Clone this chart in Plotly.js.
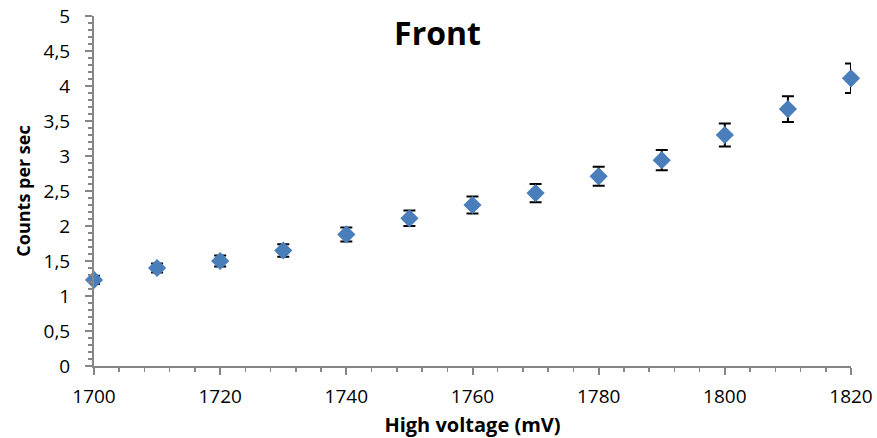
<!DOCTYPE html>
<html>
<head>
<meta charset="utf-8">
<script src="https://cdn.plot.ly/plotly-3.0.1.min.js"></script>
<style>html,body{margin:0;padding:0;background:#fff;}#chart{width:877px;height:438px;}</style>
</head>
<body>
<div id="chart"></div>
<script>
const voltage = [1700, 1710, 1720, 1730, 1740, 1750, 1760, 1770, 1780, 1790, 1800, 1810, 1820];
const counts  = [1.23, 1.40, 1.50, 1.65, 1.88, 2.11, 2.30, 2.47, 2.71, 2.94, 3.30, 3.67, 4.11];
const countsErr = [0.06, 0.065, 0.08, 0.09, 0.10, 0.11, 0.12, 0.13, 0.135, 0.145, 0.165, 0.185, 0.21];

const trace = {
  x: voltage,
  y: counts,
  type: 'scatter',
  mode: 'markers',
  cliponaxis: false,
  marker: {symbol: 'diamond', size: 14, color: '#4a7ebb', line: {width: 0}},
  error_y: {type: 'data', array: countsErr, visible: true, color: '#000000', thickness: 2, width: 6},
  hoverinfo: 'x+y'
};

const axisColor = '#868686';
const layout = {
  width: 877, height: 438,
  margin: {l: 94, r: 26, t: 16, b: 72},
  paper_bgcolor: '#ffffff', plot_bgcolor: '#ffffff',
  separators: ',.',
  showlegend: false,
  font: {family: 'Open Sans, sans-serif', color: '#000000'},
  title: {
    text: '<b>Front</b>',
    font: {family: 'Open Sans, sans-serif', size: 32, color: '#000000'},
    xref: 'container', x: 437.5/877, xanchor: 'center',
    yref: 'container', y: 1 - 34/438, yanchor: 'middle'
  },
  xaxis: {
    range: [1700, 1820], dtick: 20, tick0: 1700,
    showgrid: false, zeroline: false,
    showline: true, linecolor: axisColor, linewidth: 2,
    ticks: 'outside', ticklen: 7, tickwidth: 2, tickcolor: axisColor,
    minor: {dtick: 4, ticks: 'outside', ticklen: 4, tickwidth: 1.5, tickcolor: axisColor, showgrid: false},
    tickfont: {family: 'Open Sans, sans-serif', size: 19, color: '#000000'},
    ticklabelstandoff: 5,
    title: {text: '<b>High voltage (mV)</b>', font: {family: 'Open Sans, sans-serif', size: 20, color: '#000000'}, standoff: 10}
  },
  yaxis: {
    range: [0, 5], dtick: 0.5, tick0: 0,
    showgrid: false, zeroline: false,
    showline: true, linecolor: axisColor, linewidth: 2,
    ticks: 'outside', ticklen: 7, tickwidth: 2, tickcolor: axisColor,
    minor: {dtick: 0.1, ticks: 'outside', ticklen: 4, tickwidth: 1.5, tickcolor: axisColor, showgrid: false},
    tickfont: {family: 'Open Sans, sans-serif', size: 19, color: '#000000'},
    ticklabelstandoff: 11,
    title: {text: '<b>Counts per sec</b>', font: {family: 'Open Sans, sans-serif', size: 18, color: '#000000'}, standoff: 8}
  }
};

Plotly.newPlot('chart', [trace], layout, {displayModeBar: false, staticPlot: true});
</script>
</body>
</html>
